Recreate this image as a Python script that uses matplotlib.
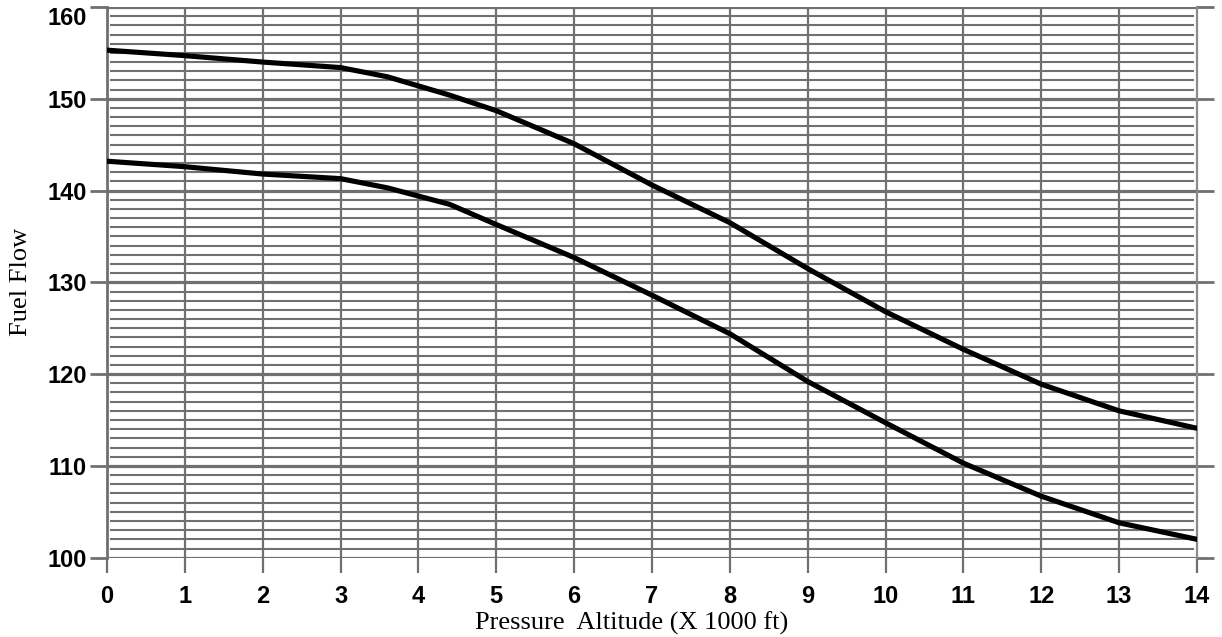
import matplotlib
matplotlib.use("Agg")
import matplotlib.pyplot as plt
import numpy as np

# Data
altitude = [0, 1, 2, 3, 3.6, 4.4, 5, 6, 7, 8, 9, 10, 11, 12, 13, 14]
fuel_upper = [155.3, 154.7, 154.0, 153.4, 152.4, 150.4, 148.7, 145.1, 140.6, 136.5,
              131.5, 126.8, 122.7, 118.9, 116.0, 114.1]
fuel_lower = [143.2, 142.6, 141.8, 141.3, 140.3, 138.5, 136.3, 132.7, 128.6, 124.4,
              119.2, 114.7, 110.3, 106.7, 103.8, 102.0]
x_ticks = list(range(0, 15))
y_ticks = [100, 110, 120, 130, 140, 150, 160]
y_minor = [v for v in range(100, 161) if v % 10 != 0]

GRID = "#707070"

fig = plt.figure(figsize=(12.22, 6.37), dpi=100)
ax = fig.add_axes([107/1222, 1 - 557.7/637, 1090/1222, (557.7 - 7)/637])
ax.set_xlim(0, 14)
ax.set_ylim(100, 160)

# minor horizontal grid (slightly inset from the frame)
ax.hlines(y_minor, 0.04, 13.96, colors=GRID, linewidth=1.5, zorder=1)
# major horizontal grid
ax.hlines(y_ticks, 0, 14, colors=GRID, linewidth=2.3, zorder=1)
# vertical grid
ax.vlines(x_ticks[1:-1], 100, 160, colors=GRID, linewidth=1.6, zorder=1)

for s in ["top", "bottom"]:
    ax.spines[s].set_visible(False)
ax.spines["left"].set_color(GRID)
ax.spines["left"].set_linewidth(2.0)
ax.spines["right"].set_color("#8a8a8a")
ax.spines["right"].set_linewidth(1.6)

ax.plot(altitude, fuel_upper, color="black", linewidth=3.7, solid_capstyle="round", zorder=3)
ax.plot(altitude, fuel_lower, color="black", linewidth=3.7, solid_capstyle="round", zorder=3)

ax.set_xticks(x_ticks)
ax.set_yticks(y_ticks)
ax.set_xticklabels([str(v) for v in x_ticks], fontsize=17, fontweight="bold",
                   family="Liberation Sans")
ax.set_yticklabels([str(v) for v in y_ticks], fontsize=17, fontweight="bold",
                   family="Liberation Sans")
ax.tick_params(axis="x", direction="out", length=11, width=1.6, color=GRID, pad=9)
ax.tick_params(axis="y", direction="out", length=12.5, width=2.0, color=GRID, pad=2,
               right=True)
ax.yaxis.get_major_ticks()[-1].label1.set_verticalalignment("top")

ax.set_xlabel("Pressure  Altitude (X 1000 ft)", fontsize=19, family="Liberation Serif")
ax.xaxis.set_label_coords(0.4817, -0.097)
ax.set_ylabel("Fuel Flow", fontsize=19, family="Liberation Serif")
ax.yaxis.set_label_coords(-0.069, 0.5)

fig.savefig("out.png", dpi=100)
